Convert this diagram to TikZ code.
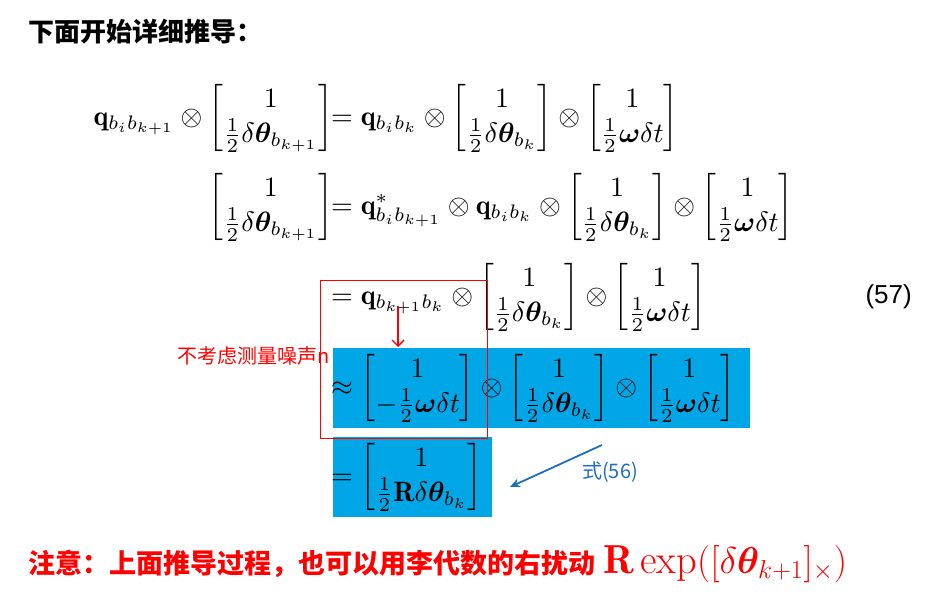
\documentclass[tikz,border=0pt]{standalone}
\usepackage{amsmath,bm}
\usepackage{fontspec}
\usetikzlibrary{arrows.meta}
\newfontfamily\cjk{Noto Sans CJK SC}
\setsansfont{Liberation Sans}
\renewcommand\arraystretch{1.05}
\newcommand\eqbig[1]{\scalebox{2.8}{#1}}
\begin{document}
\begin{tikzpicture}[x=1pt,y=-1pt,
  eq/.style={inner sep=0pt}]
\useasboundingbox (0,0) rectangle (938,613);
\definecolor{bl}{RGB}{0,166,230}
\definecolor{arr}{RGB}{30,110,190}
\fill[bl] (333,348) rectangle (750,428);
\fill[bl] (333,437) rectangle (492,517);
\node[anchor=west,inner sep=0pt,font=\cjk\bfseries\fontsize{26}{30}\selectfont] (title) at (28,32) {下面开始详细推导：};
\node[eq,anchor=east] (l1) at (333,118) {\eqbig{$\mathbf{q}_{b_ib_{k+1}}\otimes\begin{bmatrix}1\\ \frac12\delta\bm{\theta}_{b_{k+1}}\end{bmatrix}$}};
\node[eq,anchor=west] (r1) at (331,118) {\eqbig{$=\mathbf{q}_{b_ib_k}\otimes\begin{bmatrix}1\\ \frac12\delta\bm{\theta}_{b_k}\end{bmatrix}\otimes\begin{bmatrix}1\\ \frac12\bm{\omega}\delta t\end{bmatrix}$}};
\node[eq,anchor=east] (l2) at (333,207) {\eqbig{$\begin{bmatrix}1\\ \frac12\delta\bm{\theta}_{b_{k+1}}\end{bmatrix}$}};
\node[eq,anchor=west] (r2) at (331,207) {\eqbig{$=\mathbf{q}^*_{b_ib_{k+1}}\otimes\mathbf{q}_{b_ib_k}\otimes\begin{bmatrix}1\\ \frac12\delta\bm{\theta}_{b_k}\end{bmatrix}\otimes\begin{bmatrix}1\\ \frac12\bm{\omega}\delta t\end{bmatrix}$}};
\node[eq,anchor=west] (r3) at (331,297) {\eqbig{$=\mathbf{q}_{b_{k+1}b_k}\otimes\begin{bmatrix}1\\ \frac12\delta\bm{\theta}_{b_k}\end{bmatrix}\otimes\begin{bmatrix}1\\ \frac12\bm{\omega}\delta t\end{bmatrix}$}};
\node[anchor=east,inner sep=0pt,font=\sffamily\fontsize{26}{30}\selectfont] (num) at (912,297) {(57)};
\node[eq,anchor=west] (r4) at (331,388) {\eqbig{$\approx\begin{bmatrix}1\\ -\frac12\bm{\omega}\delta t\end{bmatrix}\otimes\begin{bmatrix}1\\ \frac12\delta\bm{\theta}_{b_k}\end{bmatrix}\otimes\begin{bmatrix}1\\ \frac12\bm{\omega}\delta t\end{bmatrix}$}};
\node[eq,anchor=west] (r5) at (331,477) {\eqbig{$=\begin{bmatrix}1\\ \frac12\mathbf{R}\delta\bm{\theta}_{b_k}\end{bmatrix}$}};
\draw[red,thick] (320,280) rectangle (487,438);
\coordinate (a0) at (398,306);
\coordinate (a1) at (398,347);
\draw[red,line width=1.3pt,-{Straight Barb[length=6pt,width=12pt]}] (a0) -- (a1);
\node[anchor=east,inner sep=0pt,text=red,font=\cjk\fontsize{20}{24}\selectfont] (noise) at (330,356) {不考虑测量噪声n};
\coordinate (b0) at (602,445);
\coordinate (b1) at (510,487);
\draw[arr,line width=1.8pt,-{Stealth[length=10pt,width=9pt]}] (b0) -- (b1);
\node[anchor=west,inner sep=0pt,text=arr,font=\cjk\fontsize{20}{24}\selectfont] (ref) at (582,472) {式(56)};
\node[anchor=west,inner sep=0pt,text=red,font=\fontsize{27}{30}\selectfont] (note) at (28,564) {{\cjk\bfseries 注意：上面推导过程，也可以用李代数的右扰动} \scalebox{1.5}{$\mathbf{R}\exp([\delta\bm{\theta}_{k+1}]_\times)$}};
\end{tikzpicture}
\end{document}
